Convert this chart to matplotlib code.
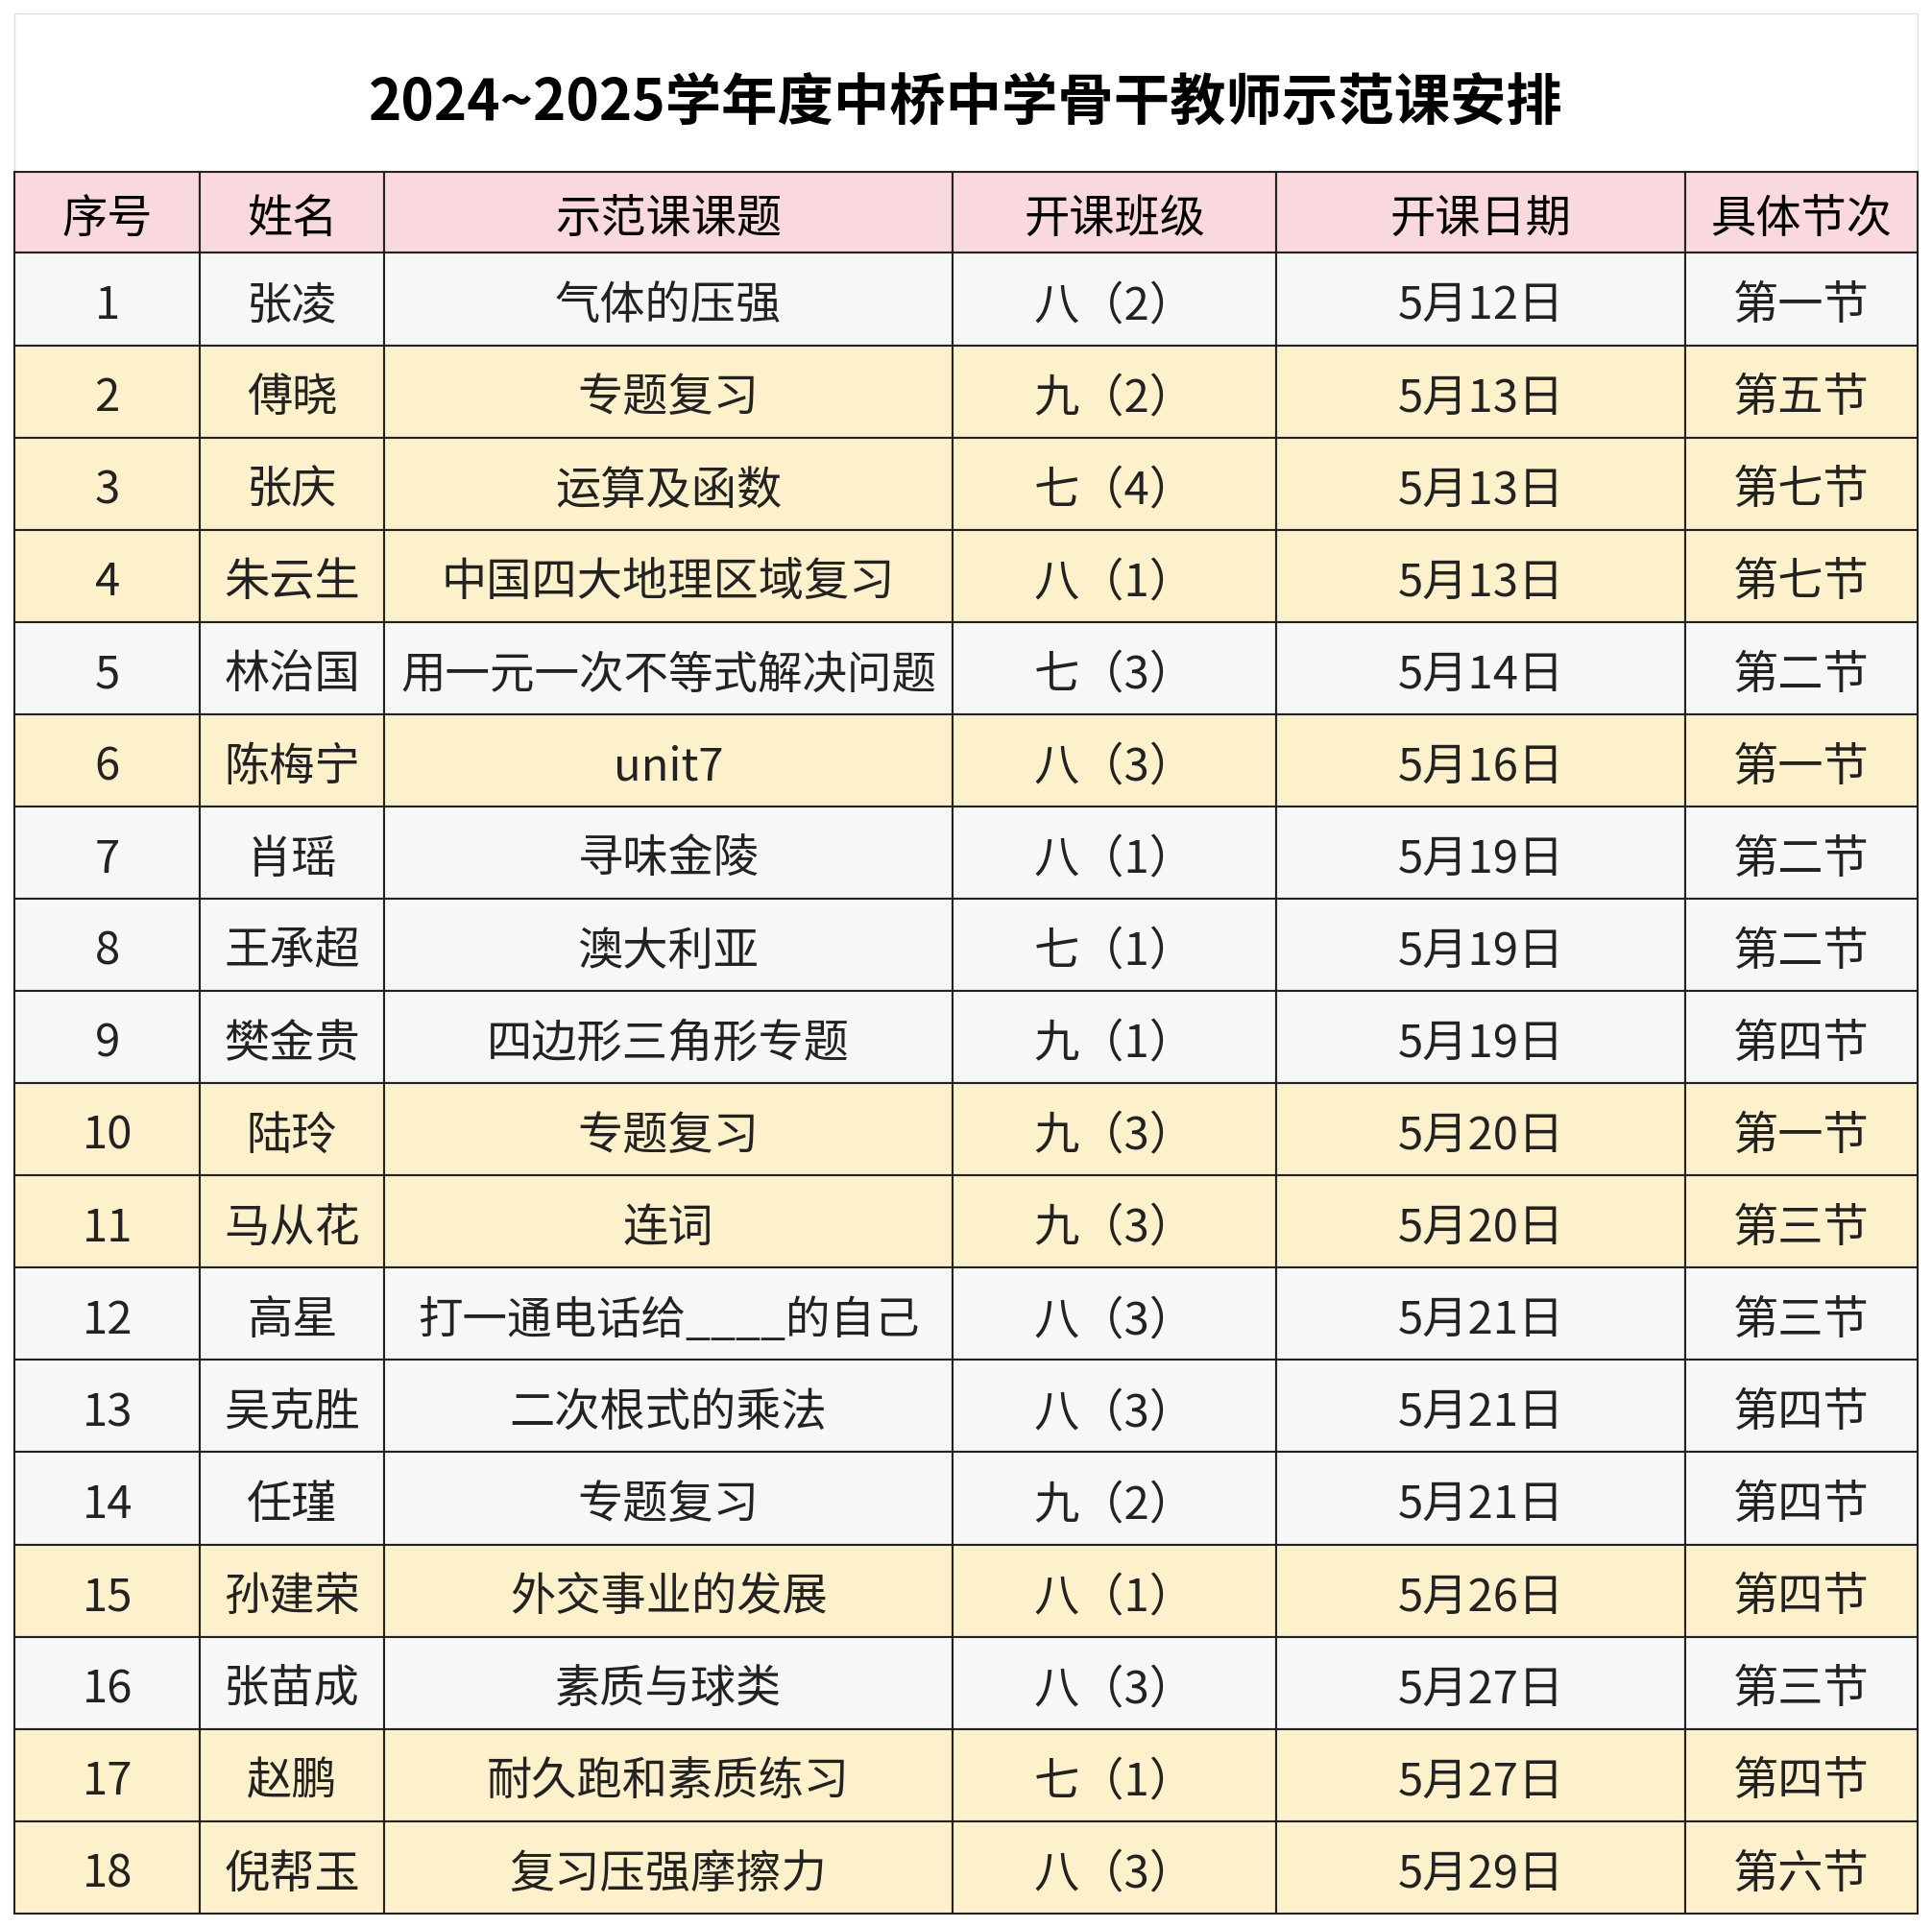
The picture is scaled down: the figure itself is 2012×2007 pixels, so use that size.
import matplotlib
matplotlib.use("Agg")
import matplotlib.pyplot as plt
from matplotlib.patches import Rectangle

title = "2024~2025学年度中桥中学骨干教师示范课安排"
headers = ["序号", "姓名", "示范课课题", "开课班级", "开课日期", "具体节次"]
seq = [str(i) for i in range(1, 19)]
names = ["张凌", "傅晓", "张庆", "朱云生", "林治国", "陈梅宁", "肖瑶", "王承超", "樊金贵",
         "陆玲", "马从花", "高星", "吴克胜", "任瑾", "孙建荣", "张苗成", "赵鹏", "倪帮玉"]
topics = ["气体的压强", "专题复习", "运算及函数", "中国四大地理区域复习", "用一元一次不等式解决问题",
          "unit7", "寻味金陵", "澳大利亚", "四边形三角形专题", "专题复习", "连词",
          "打一通电话给____的自己", "二次根式的乘法", "专题复习", "外交事业的发展", "素质与球类",
          "耐久跑和素质练习", "复习压强摩擦力"]
classes = ["八（2）", "九（2）", "七（4）", "八（1）", "七（3）", "八（3）", "八（1）", "七（1）", "九（1）",
           "九（3）", "九（3）", "八（3）", "八（3）", "九（2）", "八（1）", "八（3）", "七（1）", "八（3）"]
dates = ["5月12日", "5月13日", "5月13日", "5月13日", "5月14日", "5月16日", "5月19日", "5月19日", "5月19日",
         "5月20日", "5月20日", "5月21日", "5月21日", "5月21日", "5月26日", "5月27日", "5月27日", "5月29日"]
periods = ["第一节", "第五节", "第七节", "第七节", "第二节", "第一节", "第二节", "第二节", "第四节",
           "第一节", "第三节", "第三节", "第四节", "第四节", "第四节", "第三节", "第四节", "第六节"]
highlight = [0, 1, 1, 1, 0, 1, 0, 0, 0, 1, 1, 0, 0, 0, 1, 0, 1, 1]

plt.rcParams["font.family"] = "Noto Sans CJK SC"
fig = plt.figure(figsize=(20.12, 20.08), dpi=100)
ax = fig.add_axes([0, 0, 1, 1])
W, H = 1568, 1564
ax.set_xlim(0, W); ax.set_ylim(H, 0); ax.axis("off")

xs = [12, 162, 312, 773, 1036, 1368, 1556]
top, title_bot, head_bot, bot = 12, 140, 206, 1553
rh = (bot - head_bot) / 18

ax.add_patch(Rectangle((xs[0], top), xs[-1] - xs[0], title_bot - top, fc="white", ec="#dddddd", lw=1))
ax.text((xs[0] + xs[-1]) / 2, 84, title, ha="center", va="center", fontsize=42, fontweight="bold")

for c in range(6):
    ax.add_patch(Rectangle((xs[c], title_bot), xs[c+1] - xs[c], head_bot - title_bot,
                           fc="#f9d8de", ec="#222222", lw=1.5))
    ax.text((xs[c] + xs[c+1]) / 2, (title_bot + head_bot) / 2 + 5, headers[c],
            ha="center", va="center", fontsize=34)

cols = [seq, names, topics, classes, dates, periods]
for r in range(18):
    y0 = head_bot + r * rh
    fc = "#fdf1cb" if highlight[r] else "#f6f8f8"
    for c in range(6):
        ax.add_patch(Rectangle((xs[c], y0), xs[c+1] - xs[c], rh, fc=fc, ec="#222222", lw=1.5))
        ax.text((xs[c] + xs[c+1]) / 2, y0 + rh / 2 + 5, cols[c][r],
                ha="center", va="center", fontsize=34 if c != 2 or len(cols[c][r]) < 12 else 33.5,
                color="#222222")

fig.savefig("out.png", dpi=100, facecolor="white")
